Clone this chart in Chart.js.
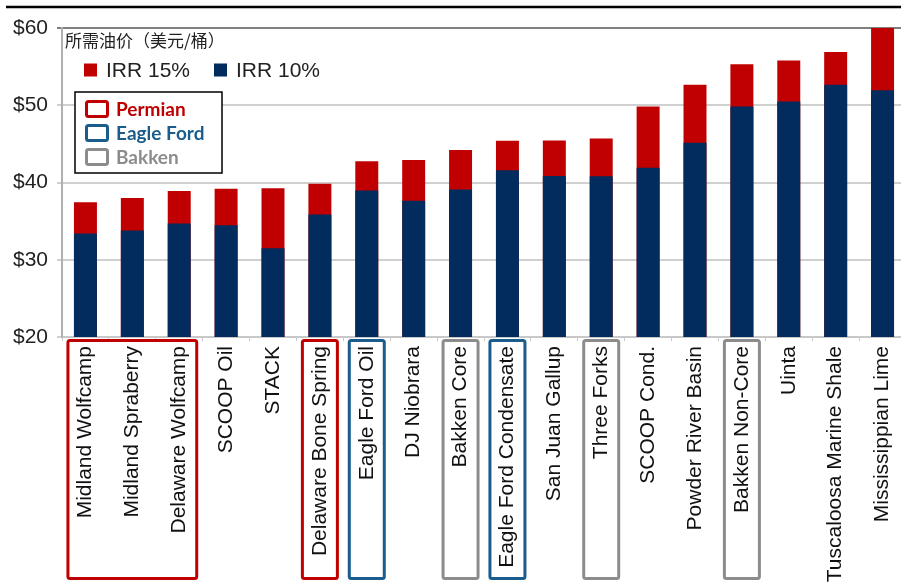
<!DOCTYPE html>
<html>
<head>
    <meta charset="UTF-8">
    <title>Breakeven oil price by play</title>
    <script src="https://cdn.jsdelivr.net/npm/chart.js@4"></script>
    <style>
        body { margin: 0; overflow: hidden; background: #fff; }
        #wrap { position: relative; width: 906px; height: 582px; }
    </style>
</head>
<body>
    <div id="wrap"><canvas id="myChart"></canvas></div>
    <script>
        // plays, sorted by the IRR 15% price
        var plays = ['Midland Wolfcamp', 'Midland Spraberry', 'Delaware Wolfcamp', 'SCOOP Oil', 'STACK',
            'Delaware Bone Spring', 'Eagle Ford Oil', 'DJ Niobrara', 'Bakken Core', 'Eagle Ford Condensate',
            'San Juan Gallup', 'Three Forks', 'SCOOP Cond.', 'Powder River Basin', 'Bakken Non-Core',
            'Uinta', 'Tuscaloosa Marine Shale', 'Mississippian Lime'];
        var irr10 = [33.4, 33.8, 34.7, 34.45, 31.5, 35.85, 38.95, 37.65, 39.1, 41.6, 40.85, 40.8, 41.9, 45.15, 49.85, 50.5, 52.65, 51.95];
        var irr15 = [37.45, 38.0, 38.9, 39.2, 39.25, 39.85, 42.75, 42.9, 44.2, 45.4, 45.45, 45.7, 49.85, 52.65, 55.3, 55.8, 56.9, 60.5];
        var yTicks = [20, 30, 40, 50, 60];

        // boxes drawn round the category labels
        var boxFrom = [0, 5, 6, 8, 9, 11, 14];
        var boxTo = [2, 5, 6, 8, 9, 11, 14];
        var boxRegion = ['Permian', 'Permian', 'Eagle Ford', 'Bakken', 'Eagle Ford', 'Bakken', 'Bakken'];
        var regions = ['Permian', 'Eagle Ford', 'Bakken'];

        var title = '所需油价（美元/桶）';
        var regionColors = { 'Permian': '#c00000', 'Eagle Ford': '#1a5c8c', 'Bakken': '#8c8c8c' };
        var red = '#c00000';
        var blue = '#022b5e';

        var decorPlugin = {
            id: 'decor',
            beforeDraw(chart) {
                var ctx = chart.ctx;
                ctx.save();
                ctx.strokeStyle = '#000';
                ctx.lineWidth = 2.5;
                ctx.beginPath();
                ctx.moveTo(6, 7);
                ctx.lineTo(chart.width, 7);
                ctx.stroke();
                ctx.restore();
            },
            afterDraw(chart) {
                var ctx = chart.ctx;
                var x = chart.scales.x;
                ctx.save();

                // boxes round labels
                ctx.lineWidth = 3;
                for (var i = 0; i < boxFrom.length; i++) {
                    var l = x.getPixelForValue(boxFrom[i]) - 17.5;
                    var r = x.getPixelForValue(boxTo[i]) + 17.5;
                    ctx.strokeStyle = regionColors[boxRegion[i]];
                    ctx.beginPath();
                    ctx.roundRect(l, 340.5, r - l, 238, 2);
                    ctx.stroke();
                }

                // title
                ctx.fillStyle = '#222';
                ctx.font = '17px "Noto Sans CJK SC"';
                ctx.textBaseline = 'middle';
                ctx.textAlign = 'left';
                ctx.fillText(title, 65, 41);

                // series legend
                var ds = chart.data.datasets;
                var items = [ds[1], ds[0]];
                var lx = [84, 214];
                ctx.font = '21px "Liberation Sans"';
                for (var j = 0; j < items.length; j++) {
                    ctx.fillStyle = items[j].backgroundColor;
                    ctx.fillRect(lx[j], 63.5, 13, 13);
                    ctx.fillStyle = '#222';
                    ctx.fillText(items[j].label, lx[j] + 22, 71);
                }

                // region legend
                ctx.fillStyle = '#fff';
                ctx.fillRect(75, 92, 147, 81);
                ctx.strokeStyle = '#000';
                ctx.lineWidth = 1.5;
                ctx.strokeRect(75, 92, 147, 81);
                ctx.font = 'bold 19px Lato';
                for (var k = 0; k < regions.length; k++) {
                    var cy = 109 + k * 24;
                    ctx.strokeStyle = regionColors[regions[k]];
                    ctx.lineWidth = 3;
                    ctx.beginPath();
                    ctx.roundRect(86.5, cy - 7.5, 21, 15, 2);
                    ctx.stroke();
                    ctx.fillStyle = regionColors[regions[k]];
                    ctx.fillText(regions[k], 116, cy + 1);
                }
                ctx.restore();
            }
        };

        const data = {
            labels: plays,
            datasets: [{
                label: 'IRR 10%',
                backgroundColor: blue,
                data: irr10
            }, {
                label: 'IRR 15%',
                backgroundColor: red,
                data: irr15
            }]
        };

        const config = {
            type: 'bar',
            data,
            options: {
                responsive: true,
                maintainAspectRatio: false,
                animation: false,
                layout: { padding: { top: 28, left: 0, right: 0, bottom: 0 } },
                datasets: { bar: { barPercentage: 0.49, categoryPercentage: 1 } },
                plugins: { legend: { display: false }, tooltip: { enabled: false } },
                scales: {
                    x: {
                        stacked: true,
                        grid: { drawOnChartArea: false, color: '#c8c8c8', tickLength: 4 },
                        border: { color: '#c8c8c8', width: 2 },
                        ticks: {
                            autoSkip: false, minRotation: 90, maxRotation: 90, padding: 5,
                            color: '#111', font: { family: 'Liberation Sans', size: 21 }
                        },
                        afterFit(scale) {
                            scale.height = 245;
                            scale.paddingLeft = 0;
                            scale.paddingRight = 0;
                        }
                    },
                    y: {
                        stacked: false,
                        min: 20,
                        max: 60,
                        afterBuildTicks(scale) { scale.ticks = yTicks.map(v => ({ value: v })); },
                        grid: {
                            color: ctx => ctx.tick && ctx.tick.value === 60 ? '#808080' : '#d0d0d0',
                            lineWidth: 2,
                            tickLength: 5
                        },
                        border: { color: '#b0b0b0', width: 2 },
                        ticks: {
                            padding: 9,
                            color: '#222',
                            font: { family: 'Liberation Sans', size: 21 },
                            callback: v => '$' + v
                        },
                        afterFit(scale) { scale.width = 62; }
                    }
                }
            },
            plugins: [decorPlugin]
        };

        var myChart = new Chart(document.getElementById('myChart'), config);
    </script>
</body>
</html>
